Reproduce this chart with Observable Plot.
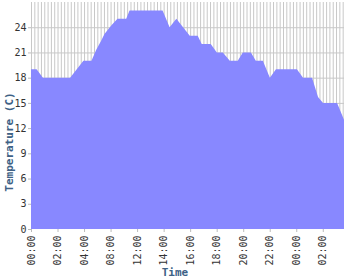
<!DOCTYPE html>
<html>
<head>
<meta charset="utf-8">
<script src="https://cdn.jsdelivr.net/npm/d3@7"></script>
<script src="https://cdn.jsdelivr.net/npm/@observablehq/plot@0.6"></script>
<style>
  html, body { margin: 0; padding: 0; background: #fff; }
  #chart { width: 350px; height: 280px; }
</style>
</head>
<body>
<div id="chart"></div>
<script>
// Hours since start of the x axis, and temperature (C)
const hours = [0, 0.42, 0.9, 2.95, 3.95, 4.56, 4.91, 5.29, 5.54, 6.05, 6.52, 7.18, 7.43, 9.92, 10.45, 10.96, 11.97, 12.57, 12.87, 13.55, 14.01, 14.46, 14.99, 15.59, 15.97, 16.58, 16.95, 17.48, 18.01, 18.47, 20.05, 20.51, 21.19, 21.64, 22.02, 23.08, 23.6];
const temps = [19, 19, 18, 18, 20, 20, 21.3, 22.4, 23.2, 24.2, 25, 25, 26, 26, 24, 25, 23, 23, 22, 22, 21, 21, 20, 20, 21, 21, 20, 20, 18, 19, 19, 18, 18, 15.7, 15, 15, 13];

const tickPositions = [0, 2, 4, 6, 8, 10, 12, 14, 16, 18, 20, 22];
const tickLabels = ["00:00", "02:00", "04:00", "08:00", "12:00", "14:00", "16:00", "18:00", "20:00", "22:00", "00:00", "02:00"];
const yTicks = [0, 3, 6, 9, 12, 15, 18, 21, 24];

const data = hours.map((h, i) => ({h, t: temps[i]}));
const gridX = d3.range(0, 23.6, 0.25);

const plot = Plot.plot({
  width: 350,
  height: 280,
  marginLeft: 31,
  marginRight: 6,
  marginTop: 2,
  marginBottom: 51,
  style: {fontFamily: "DejaVu Sans Mono", fontSize: "10px", color: "#333", background: "#fff"},
  x: {domain: [0, 23.6], label: null},
  y: {domain: [0, 27], label: null},
  marks: [
    Plot.ruleX(gridX, {x: d => d, stroke: "#c8c8c8", strokeWidth: 1}),
    Plot.ruleY(yTicks.slice(1), {y: d => d, stroke: "#c8c8c8", strokeWidth: 1}),
    Plot.areaY(data, {x: "h", y: "t", fill: "#8888ff", curve: "linear"}),
    Plot.axisY({ticks: yTicks, tickSize: 3, tickPadding: 2, stroke: "#bbb", label: null}),
    Plot.axisX({ticks: tickPositions, tickFormat: (d, i) => tickLabels[tickPositions.indexOf(d)], tickSize: 3, tickPadding: 3, tickRotate: -90, stroke: "#bbb", label: null})
  ]
});

const svg = d3.select(plot);
svg.append("text")
  .attr("transform", "translate(13,142) rotate(-90)")
  .attr("text-anchor", "middle")
  .attr("fill", "#3d6185")
  .attr("font-family", "DejaVu Sans Mono")
  .attr("font-weight", "bold")
  .attr("font-size", "11px")
  .text("Temperature (C)");
svg.append("text")
  .attr("x", 175)
  .attr("y", 276)
  .attr("text-anchor", "middle")
  .attr("fill", "#3d6185")
  .attr("font-family", "DejaVu Sans Mono")
  .attr("font-weight", "bold")
  .attr("font-size", "11px")
  .text("Time");

document.getElementById("chart").appendChild(plot);
</script>
</body>
</html>
